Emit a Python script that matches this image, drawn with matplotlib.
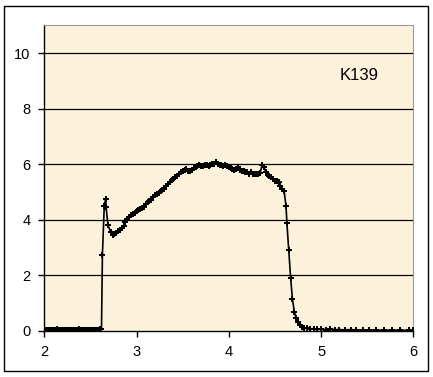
import matplotlib
matplotlib.use("Agg")
import matplotlib.pyplot as plt
from matplotlib.patches import Rectangle

# baseline before the front
x_base = [2.00, 2.02, 2.04, 2.06, 2.08, 2.10, 2.12, 2.14, 2.16, 2.18, 2.20,
          2.22, 2.24, 2.26, 2.28, 2.30, 2.32, 2.34, 2.36, 2.38, 2.40, 2.42,
          2.44, 2.46, 2.48, 2.50, 2.52, 2.54, 2.56, 2.58, 2.60, 2.62]
y_base = [0.02, 0.03, 0.01, 0.04, 0.02, 0.03, 0.02, 0.05, 0.02, 0.01, 0.03,
          0.04, 0.02, 0.03, 0.01, 0.02, 0.04, 0.03, 0.02, 0.05, 0.03, 0.02,
          0.01, 0.03, 0.04, 0.02, 0.03, 0.02, 0.04, 0.03, 0.05, 0.06]

# initial spike
x_spike = [2.63, 2.65, 2.665, 2.67, 2.69, 2.72, 2.74]
y_spike = [2.73, 4.50, 4.75, 4.45, 3.80, 3.55, 3.44]

# plateau
x_rise = [2.76, 2.78, 2.80, 2.82, 2.84, 2.86, 2.88, 2.90, 2.92, 2.94, 2.96,
          2.98, 3.00, 3.02, 3.04, 3.06, 3.08, 3.10, 3.12, 3.14, 3.16, 3.18,
          3.20, 3.22, 3.24, 3.26, 3.28, 3.30, 3.32, 3.34, 3.36, 3.38, 3.40,
          3.42, 3.44, 3.46, 3.48, 3.50, 3.52, 3.54, 3.56, 3.58, 3.60, 3.62,
          3.64, 3.66, 3.68, 3.70, 3.72, 3.74, 3.76, 3.78, 3.80, 3.82, 3.84,
          3.86, 3.88, 3.90, 3.92, 3.94, 3.96, 3.98, 4.00, 4.02, 4.04, 4.06,
          4.08, 4.10, 4.12, 4.14, 4.16, 4.18, 4.20, 4.22, 4.24, 4.26, 4.28,
          4.30, 4.32, 4.34, 4.36, 4.38, 4.40, 4.42, 4.44, 4.46, 4.48, 4.50,
          4.52, 4.54, 4.56, 4.58, 4.60]
y_rise = [3.48, 3.52, 3.58, 3.63, 3.70, 3.76, 3.90, 4.02, 4.10, 4.18, 4.22,
          4.25, 4.32, 4.36, 4.40, 4.43, 4.47, 4.55, 4.62, 4.66, 4.72, 4.80,
          4.88, 4.92, 4.97, 5.02, 5.06, 5.12, 5.20, 5.30, 5.36, 5.42, 5.48,
          5.52, 5.58, 5.64, 5.70, 5.74, 5.80, 5.82, 5.76, 5.74, 5.80, 5.86,
          5.90, 5.95, 5.97, 5.94, 5.92, 5.96, 5.98, 5.94, 5.97, 6.02, 6.00,
          6.07, 6.00, 5.96, 5.98, 5.94, 5.97, 5.92, 5.88, 5.86, 5.82, 5.78,
          5.84, 5.88, 5.80, 5.76, 5.74, 5.72, 5.70, 5.66, 5.70, 5.66, 5.64,
          5.64, 5.65, 5.68, 5.96, 5.90, 5.72, 5.60, 5.58, 5.55, 5.45, 5.40,
          5.38, 5.36, 5.22, 5.10, 5.02]

# drop and tail
x_fall = [4.62, 4.63, 4.65, 4.67, 4.69, 4.71, 4.73, 4.75, 4.77, 4.79, 4.82,
          4.85, 4.88, 4.92, 4.96, 5.00, 5.05, 5.10, 5.15, 5.20, 5.26, 5.32,
          5.38, 5.45, 5.52, 5.60, 5.68, 5.77, 5.86, 5.95, 6.00]
y_fall = [4.50, 3.87, 2.91, 1.91, 1.13, 0.69, 0.45, 0.32, 0.22, 0.14, 0.10,
          0.08, 0.07, 0.06, 0.05, 0.05, 0.04, 0.05, 0.04, 0.04, 0.03, 0.04,
          0.03, 0.03, 0.03, 0.02, 0.02, 0.02, 0.02, 0.01, 0.01]

x = x_base + x_spike + x_rise + x_fall
y = y_base + y_spike + y_rise + y_fall

plt.rcParams['font.family'] = ['Liberation Sans', 'DejaVu Sans']

fig = plt.figure(figsize=(4.33, 3.77), dpi=100)
fig.patches.append(Rectangle((4 / 433, 1 - 371 / 377), 424 / 433, 365.5 / 377,
                             transform=fig.transFigure, fill=False,
                             edgecolor='black', linewidth=1))

ax = fig.add_axes([0.1023, 0.1228, 0.8522, 0.8101])
ax.set_facecolor('#fcf2dc')
ax.set_xlim(2, 6)
ax.set_ylim(0, 11)
ax.set_xticks([2, 3, 4, 5, 6])
ax.set_yticks([0, 2, 4, 6, 8, 10])
for g in [2, 4, 6, 8, 10]:
    ax.axhline(g, color='black', linewidth=0.9, zorder=1)

ax.plot(x, y, color='black', linewidth=1.2, marker='P', markersize=4,
        markeredgewidth=0, zorder=3)

ax.text(5.41, 9.2, 'K139', fontsize=12, ha='center', va='center')

for s in ['top', 'right']:
    ax.spines[s].set_color('#9a9a9a')
    ax.spines[s].set_linewidth(0.8)
for s in ['left', 'bottom']:
    ax.spines[s].set_color('black')
    ax.spines[s].set_linewidth(1)
ax.tick_params(axis='both', direction='out', length=4, width=1,
               labelsize=10.5, colors='black')
ax.tick_params(axis='y', pad=6)
ax.tick_params(axis='x', pad=6)

fig.savefig('out.png', dpi=100)
